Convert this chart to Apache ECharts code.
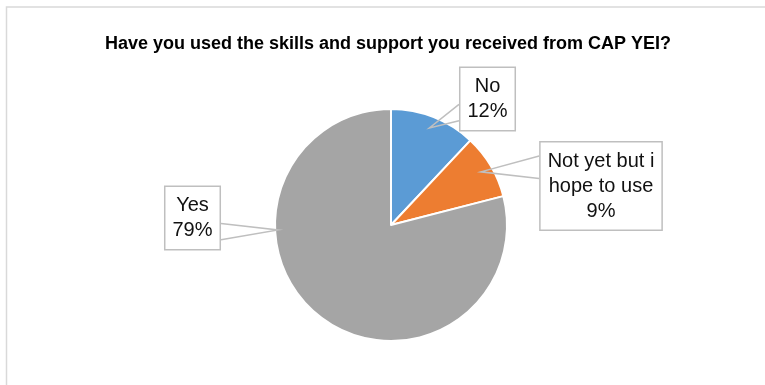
<!DOCTYPE html>
<html>
<head>
<meta charset="utf-8">
<script src="https://cdn.jsdelivr.net/npm/echarts@6/dist/echarts.min.js"></script>
<style>
  html, body { margin: 0; padding: 0; background: #fff; }
  #chart { width: 765px; height: 385px; }
</style>
</head>
<body>
<div id="chart"></div>
<script>
// Survey answers
const chartTitle = 'Have you used the skills and support you received from CAP YEI?';
const categories = ['No', 'Not yet but i\nhope to use', 'Yes'];
const shares = [12, 9, 79];
const sliceColors = ['#5B9BD5', '#ED7D31', '#A5A5A5'];

// Pie geometry (pixels)
const PIE_CX = 391, PIE_CY = 225, PIE_R = 116;
// Centre of each callout box, and where its pointer lands on the slice
const calloutCentres = [[487.5, 99], [601, 186], [192.5, 218]];
const calloutTips = [
  { angle: null, r: 0.9 },
  { angle: null, r: 0.9 },
  { angle: 267.5, r: 0.975 }
];

const total = shares.reduce((s, v) => s + v, 0);
// mid angle of slice i, degrees clockwise from 12 o'clock
function midAngle(i) {
  let before = 0;
  for (let k = 0; k < i; k++) before += shares[k];
  return (before + shares[i] / 2) / total * 360;
}

// wedge-shaped pointer: two base points on the box edge facing the tip
function calloutPointer(i, w, h) {
  const [cx, cy] = calloutCentres[i];
  const spec = calloutTips[i];
  const ang = (spec.angle != null ? spec.angle : midAngle(i)) * Math.PI / 180;
  const tx = PIE_CX + spec.r * PIE_R * Math.sin(ang);
  const ty = PIE_CY - spec.r * PIE_R * Math.cos(ang);
  const x0 = cx - w / 2, y0 = cy - h / 2;
  const dx = tx - cx, dy = ty - cy;
  let a, b;
  if (Math.abs(dy) > Math.abs(dx * h / w)) {
    const ey = dy < 0 ? y0 : y0 + h;
    const f = dx < 0 ? [2 / 12, 5 / 12] : [7 / 12, 10 / 12];
    a = [x0 + w * f[0], ey];
    b = [x0 + w * f[1], ey];
  } else {
    const ex = dx < 0 ? x0 : x0 + w;
    const f = dy < 0 ? [2 / 12, 5 / 12] : [7 / 12, 10 / 12];
    a = [ex, y0 + h * f[0]];
    b = [ex, y0 + h * f[1]];
  }
  return [a, [tx, ty], b];
}

const pieData = categories.map((name, i) => ({
  name: name,
  value: shares[i],
  itemStyle: { color: sliceColors[i] }
}));

const chart = echarts.init(document.getElementById('chart'), null, { renderer: 'canvas' });

chart.setOption({
  animation: false,
  backgroundColor: '#fff',
  title: {
    text: chartTitle,
    left: 388,
    textAlign: 'center',
    top: 35,
    padding: 0,
    textStyle: {
      fontFamily: 'Liberation Sans',
      fontWeight: 'bold',
      fontSize: 18,
      color: '#000'
    }
  },
  graphic: [{
    type: 'rect',
    silent: true,
    shape: { x: 6.5, y: 7, width: 820, height: 420 },
    style: { fill: 'none', stroke: '#d9d9d9', lineWidth: 1.5 }
  }],
  series: [
    // the slices
    {
      type: 'pie',
      z: 2,
      center: [PIE_CX, PIE_CY],
      radius: PIE_R,
      startAngle: 90,
      clockwise: true,
      itemStyle: { borderColor: '#fff', borderWidth: 2 },
      label: { show: false },
      labelLine: { show: false },
      data: pieData
    },
    // callouts, layered above the slices so the pointers overlap them
    {
      type: 'pie',
      z: 4,
      silent: true,
      center: [PIE_CX, PIE_CY],
      radius: PIE_R,
      startAngle: 90,
      clockwise: true,
      avoidLabelOverlap: false,
      itemStyle: { color: 'rgba(0,0,0,0)', borderWidth: 0 },
      label: {
        show: true,
        position: 'outside',
        formatter: '{b}\n{d}%',
        fontFamily: 'Liberation Sans',
        fontSize: 20,
        lineHeight: 25,
        color: '#111',
        align: 'center',
        backgroundColor: '#fff',
        borderColor: '#bfbfbf',
        borderWidth: 1.5,
        padding: [6, 7, 6, 7]
      },
      labelLine: {
        show: true,
        showAbove: true,
        length: 10,
        length2: 10,
        smooth: false,
        lineStyle: { color: '#bfbfbf', width: 1.5 }
      },
      labelLayout: function (p) {
        const i = p.dataIndex;
        const w = p.labelRect.width, h = p.labelRect.height;
        return {
          x: calloutCentres[i][0],
          y: calloutCentres[i][1],
          align: 'center',
          verticalAlign: 'middle',
          labelLinePoints: calloutPointer(i, w, h)
        };
      },
      data: categories.map((name, i) => ({
        name: name,
        value: shares[i],
        itemStyle: { color: 'rgba(0,0,0,0)' }
      }))
    }
  ]
});
</script>
</body>
</html>
